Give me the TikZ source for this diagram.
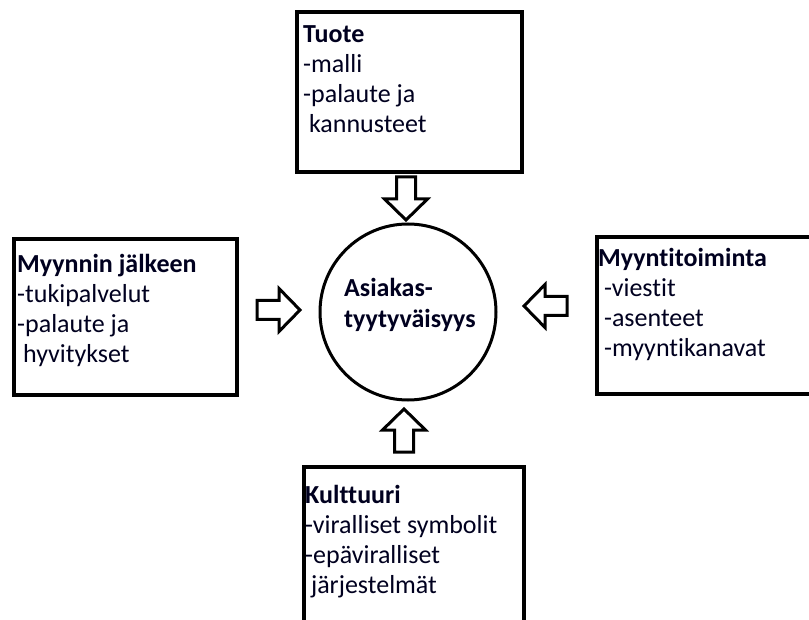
\documentclass[tikz,border=0pt]{standalone}
\usepackage{fontspec}
\setmainfont{Carlito}[Ligatures=NoCommon]
\begin{document}
\begin{tikzpicture}[x=1pt,y=-1pt,
  box/.style={draw=black,line width=4.4pt,inner sep=0pt,anchor=north west},
  label/.style={inner sep=0pt,anchor=base west,font=\fontsize{26}{30}\selectfont,text=black!88!blue},
  hub/.style={draw=black,line width=3pt,circle,inner sep=0pt,minimum size=176pt},
  pics/blockarrow/.style={code={
    \draw[line width=3pt,line join=miter,fill=white]
      (0,-9.5) -- (22,-9.5) -- (22,-21.5) -- (43,0) -- (22,21.5) -- (22,9.5) -- (0,9.5) -- cycle;}}
]
\useasboundingbox (0,0) rectangle (809,620);
\clip (0,0) rectangle (809,620);
\fill[white] (0,0) rectangle (809,620);

% boxes
\node[box,minimum width=225pt,minimum height=160pt] (tuote) at (295,10) {};
\node[box,minimum width=223pt,minimum height=156pt] (myynnin) at (12,237) {};
\node[box,minimum width=230pt,minimum height=157pt] (myynti) at (595,235) {};
\node[box,minimum width=220pt,minimum height=170pt] (kult) at (302,465) {};

% hub
\node[hub] (hub) at (408,312) {};

% texts
\newcommand{\tl}[1]{\vtop{\baselineskip=30pt\lineskiplimit=-20pt #1}}
\node[label] (tuoteT) at (303,43) {\tl{\hbox{\bfseries Tuote}\hbox{-malli}\hbox{-palaute ja}\hbox{\ kannusteet}}};
\node[label] (myynninT) at (17,273) {\tl{\hbox{\bfseries Myynnin jälkeen}\hbox{-tukipalvelut}\hbox{-palaute ja}\hbox{\ hyvitykset}}};
\node[label] (myyntiT) at (598,267) {\tl{\hbox{\bfseries Myyntitoiminta}\hbox{\ -viestit}\hbox{\ -asenteet}\hbox{\ -myyntikanavat}}};
\node[label] (kultT) at (305,503) {\tl{\hbox{\bfseries Kulttuuri}\hbox{-viralliset symbolit}\hbox{-epäviralliset}\hbox{\ järjestelmät}}};
\node[label,font=\fontsize{26}{31}\selectfont\bfseries] (hubT) at (344,297) {\vtop{\baselineskip=31pt\lineskiplimit=-20pt\hbox{Asiakas-}\hbox{tyytyväisyys}}};

% block arrows
\pic at (406,177) [rotate=-90] {blockarrow};
\pic at (404,452) [rotate=90] {blockarrow};
\pic at (257,310) {blockarrow};
\pic at (567,306) [rotate=180] {blockarrow};
\end{tikzpicture}
\end{document}
